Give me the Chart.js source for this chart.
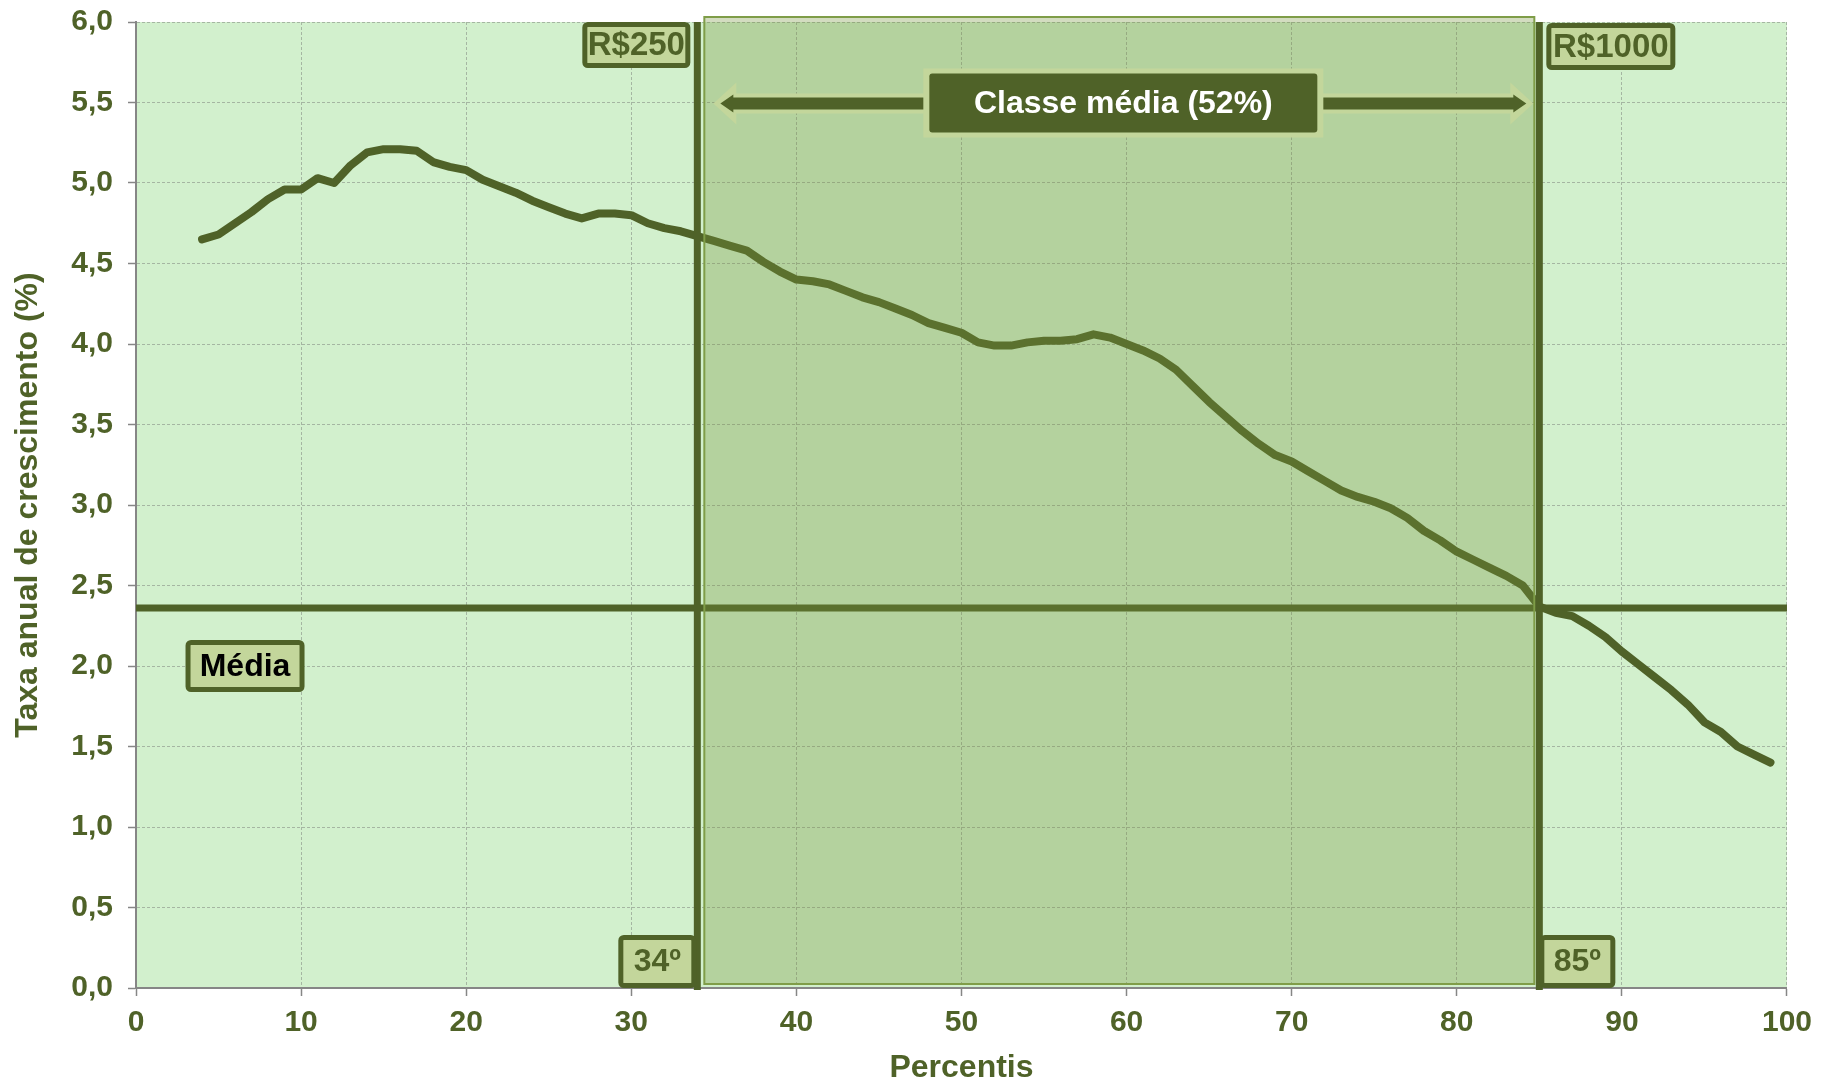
<!DOCTYPE html>
<html lang="pt-BR">
<head>
<meta charset="utf-8">
<title>Taxa anual de crescimento por percentil</title>
<script src="https://cdn.jsdelivr.net/npm/chart.js@4.4.1/dist/chart.umd.min.js"></script>
<style>
  html, body { margin: 0; padding: 0; background: #ffffff; }
  #wrap { width: 1821px; height: 1082px; }
  canvas { display: block; }
</style>
</head>
<body>
<div id="wrap"><canvas id="grafico" width="1821" height="1082"></canvas></div>
<script>
// Percentis da distribuição de renda
const PERCENTIS = [4,5,6,7,8,9,10,11,12,13,14,15,16,17,18,19,20,21,22,23,
  24,25,26,27,28,29,30,31,32,33,34,35,36,37,38,39,40,41,42,43,
  44,45,46,47,48,49,50,51,52,53,54,55,56,57,58,59,60,61,62,63,
  64,65,66,67,68,69,70,71,72,73,74,75,76,77,78,79,80,81,82,83,
  84,85,86,87,88,89,90,91,92,93,94,95,96,97,98,99];

// Taxa anual de crescimento da renda (%) em cada percentil
const TAXA = [4.65,4.68,4.75,4.82,4.90,4.96,4.96,5.03,5.00,5.11,
  5.19,5.21,5.21,5.20,5.13,5.10,5.08,5.02,4.98,4.94,
  4.89,4.85,4.81,4.78,4.81,4.81,4.80,4.75,4.72,4.70,
  4.67,4.64,4.61,4.58,4.51,4.45,4.40,4.39,4.37,4.33,
  4.29,4.26,4.22,4.18,4.13,4.10,4.07,4.01,3.99,3.99,
  4.01,4.02,4.02,4.03,4.06,4.04,4.00,3.96,3.91,3.84,
  3.74,3.64,3.55,3.46,3.38,3.31,3.27,3.21,3.15,3.09,
  3.05,3.02,2.98,2.92,2.84,2.78,2.71,2.66,2.61,2.56,
  2.50,2.37,2.33,2.31,2.25,2.18,2.09,2.01,1.93,1.85,
  1.76,1.65,1.59,1.50,1.45,1.40];

// Taxa média e limites da classe média (percentis)
const MEDIA = 2.36;
const MEDIA_EXTENSAO = [0, 100];
const LIMITES_CLASSE_MEDIA = [34, 85];
const ALTURA_SETA = 5.5;
const POSICAO_ROTULO_MEDIA = [3, 2.0];

// Rótulos dos eixos
const X_TICKS = ['0','10','20','30','40','50','60','70','80','90','100'];
const Y_TICKS = ['0,0','0,5','1,0','1,5','2,0','2,5','3,0','3,5','4,0','4,5','5,0','5,5','6,0'];

// Textos das anotações
const TXT_RENDA_INF = 'R$250';
const TXT_RENDA_SUP = 'R$1000';
const TXT_PCT_INF = '34º';
const TXT_PCT_SUP = '85º';
const TXT_CLASSE = 'Classe média (52%)';
const TXT_MEDIA = 'Média';

const OLIVA = '#4F6228';
const OLIVA_CLARO = '#C3D69B';
const FONTE = '"Liberation Sans", Arial, sans-serif';

Chart.defaults.font.family = FONTE;

const pontos = PERCENTIS.map((p, i) => ({ x: p, y: TAXA[i] }));
const linhaMedia = MEDIA_EXTENSAO.map(p => ({ x: p, y: MEDIA }));

// Fundo verde da área de plotagem
const fundoPlugin = {
  id: 'fundo',
  beforeDraw(chart) {
    const { ctx, chartArea: a } = chart;
    ctx.save();
    ctx.fillStyle = '#D2F0CD';
    ctx.fillRect(a.left, a.top, a.right - a.left, a.bottom - a.top);
    ctx.restore();
  }
};

function caixa(ctx, x0, y0, w, h, o) {
  const lw = o.lw || 0;
  ctx.beginPath();
  ctx.roundRect(x0 + lw / 2, y0 + lw / 2, w - lw, h - lw, 3);
  ctx.fillStyle = o.fill;
  ctx.fill();
  if (lw) {
    ctx.lineWidth = lw;
    ctx.strokeStyle = o.stroke;
    ctx.stroke();
  }
  ctx.font = o.font;
  ctx.fillStyle = o.color;
  ctx.textAlign = 'center';
  ctx.textBaseline = 'middle';
  ctx.fillText(o.text, x0 + w / 2, y0 + h / 2 + 1);
}

function seta(ctx, xa, xb, yc) {
  // contorno claro
  ctx.fillStyle = OLIVA_CLARO;
  ctx.beginPath();
  ctx.moveTo(xa, yc);
  ctx.lineTo(xa + 23, yc - 21);
  ctx.lineTo(xa + 23, yc - 10);
  ctx.lineTo(xb - 23, yc - 10);
  ctx.lineTo(xb - 23, yc - 21);
  ctx.lineTo(xb, yc);
  ctx.lineTo(xb - 23, yc + 21);
  ctx.lineTo(xb - 23, yc + 10);
  ctx.lineTo(xa + 23, yc + 10);
  ctx.lineTo(xa + 23, yc + 21);
  ctx.closePath();
  ctx.fill();
  // seta escura
  ctx.fillStyle = OLIVA;
  ctx.beginPath();
  ctx.moveTo(xa + 7, yc);
  ctx.lineTo(xa + 20, yc - 9);
  ctx.lineTo(xa + 20, yc - 6);
  ctx.lineTo(xb - 20, yc - 6);
  ctx.lineTo(xb - 20, yc - 9);
  ctx.lineTo(xb - 7, yc);
  ctx.lineTo(xb - 20, yc + 9);
  ctx.lineTo(xb - 20, yc + 6);
  ctx.lineTo(xa + 20, yc + 6);
  ctx.lineTo(xa + 20, yc + 9);
  ctx.closePath();
  ctx.fill();
}

// Faixa da classe média, linhas de corte e anotações
const faixaPlugin = {
  id: 'faixa',
  afterDatasetsDraw(chart) {
    const { ctx, scales: { x, y } } = chart;
    const xi = x.getPixelForValue(LIMITES_CLASSE_MEDIA[0]);
    const xs = x.getPixelForValue(LIMITES_CLASSE_MEDIA[1]);
    const yTop = y.top;
    const yBot = y.bottom;
    ctx.save();

    // faixa translúcida
    const rx0 = xi + 7, rx1 = xs - 5, ry0 = yTop - 5, ry1 = yBot - 4;
    ctx.fillStyle = 'rgba(119,147,60,0.32)';
    ctx.fillRect(rx0, ry0, rx1 - rx0, ry1 - ry0);
    ctx.lineWidth = 2;
    ctx.strokeStyle = '#7F9D48';
    ctx.strokeRect(rx0, ry0, rx1 - rx0, ry1 - ry0);

    // linhas verticais nos limites
    ctx.strokeStyle = OLIVA;
    ctx.lineWidth = 7;
    ctx.lineCap = 'butt';
    [xi, xs].forEach(px => {
      ctx.beginPath();
      ctx.moveTo(px, yTop);
      ctx.lineTo(px, yBot + 2);
      ctx.stroke();
    });

    // seta horizontal da classe média
    const ySeta = y.getPixelForValue(ALTURA_SETA) + 1;
    seta(ctx, xi + 16, xs - 6, ySeta);

    // caixa central
    const cx = (rx0 + rx1) / 2 + 4;
    ctx.fillStyle = OLIVA_CLARO;
    ctx.fillRect(cx - 200, ySeta - 35, 400, 69);
    caixa(ctx, cx - 194, ySeta - 30, 388, 59, {
      fill: OLIVA, text: TXT_CLASSE, color: '#FFFFFF',
      font: 'bold 32px ' + FONTE
    });

    // rótulos de renda no topo
    caixa(ctx, xi - 115, yTop, 108, 46, {
      fill: OLIVA_CLARO, stroke: OLIVA, lw: 5, text: TXT_RENDA_INF,
      color: OLIVA, font: 'bold 33px ' + FONTE
    });
    caixa(ctx, xs + 7, yTop + 1, 129, 47, {
      fill: OLIVA_CLARO, stroke: OLIVA, lw: 5, text: TXT_RENDA_SUP,
      color: OLIVA, font: 'bold 33px ' + FONTE
    });

    // rótulos de percentil na base
    caixa(ctx, xi - 79, yBot - 53, 78, 53, {
      fill: OLIVA_CLARO, stroke: OLIVA, lw: 5, text: TXT_PCT_INF,
      color: OLIVA, font: 'bold 32px ' + FONTE
    });
    caixa(ctx, xs, yBot - 53, 76, 53, {
      fill: OLIVA_CLARO, stroke: OLIVA, lw: 5, text: TXT_PCT_SUP,
      color: OLIVA, font: 'bold 32px ' + FONTE
    });

    // rótulo da média
    const mx = x.getPixelForValue(POSICAO_ROTULO_MEDIA[0]);
    const my = y.getPixelForValue(POSICAO_ROTULO_MEDIA[1]);
    caixa(ctx, mx, my - 26, 119, 52, {
      fill: OLIVA_CLARO, stroke: OLIVA, lw: 5, text: TXT_MEDIA,
      color: '#000000', font: 'bold 32px ' + FONTE
    });

    ctx.restore();
  }
};

new Chart(document.getElementById('grafico'), {
  type: 'line',
  data: {
    datasets: [
      {
        label: 'Média',
        data: linhaMedia,
        borderColor: OLIVA,
        borderWidth: 7,
        pointRadius: 0,
        fill: false,
        borderCapStyle: 'butt',
        order: 2
      },
      {
        label: 'Taxa anual de crescimento',
        data: pontos,
        borderColor: OLIVA,
        borderWidth: 8,
        pointRadius: 0,
        tension: 0,
        fill: false,
        borderCapStyle: 'round',
        borderJoinStyle: 'round',
        order: 1
      }
    ]
  },
  options: {
    responsive: false,
    devicePixelRatio: 1,
    animation: false,
    events: [],
    layout: { padding: { top: 22, right: 30, left: 0, bottom: 0 } },
    plugins: {
      legend: { display: false },
      tooltip: { enabled: false },
      title: { display: false }
    },
    scales: {
      x: {
        type: 'linear',
        min: 0,
        max: 100,
        afterFit(s) { s.height = 94; },
        ticks: {
          stepSize: 10,
          padding: 9,
          color: OLIVA,
          font: { size: 30, weight: 'bold' },
          callback: (v, i) => X_TICKS[i]
        },
        grid: {
          color: 'rgba(110,110,110,0.45)',
          lineWidth: 1,
          drawTicks: true,
          tickLength: 8,
          tickColor: '#868686',
          tickWidth: 1.5,
          tickBorderDash: []
        },
        border: { display: true, color: '#868686', width: 2, dash: [3, 2] },
        title: {
          display: true,
          text: 'Percentis',
          color: OLIVA,
          font: { size: 32, weight: 'bold', lineHeight: 1 },
          padding: { top: 0, bottom: -2 }
        }
      },
      y: {
        type: 'linear',
        min: 0,
        max: 6,
        afterFit(s) {
          s.width = 136;
          s.paddingTop = 0;
          s.paddingBottom = 0;
        },
        ticks: {
          stepSize: 0.5,
          padding: 15,
          color: OLIVA,
          font: { size: 30, weight: 'bold' },
          callback: (v, i) => Y_TICKS[i]
        },
        grid: {
          color: 'rgba(110,110,110,0.45)',
          lineWidth: 1,
          drawTicks: true,
          tickLength: 8,
          tickColor: '#868686',
          tickWidth: 1.5,
          tickBorderDash: []
        },
        border: { display: true, color: '#868686', width: 2, dash: [3, 2] },
        title: {
          display: true,
          text: 'Taxa anual de crescimento (%)',
          color: OLIVA,
          font: { size: 32, weight: 'bold' },
          padding: { top: 9, bottom: 0 }
        }
      }
    }
  },
  plugins: [fundoPlugin, faixaPlugin]
});
</script>
</body>
</html>
